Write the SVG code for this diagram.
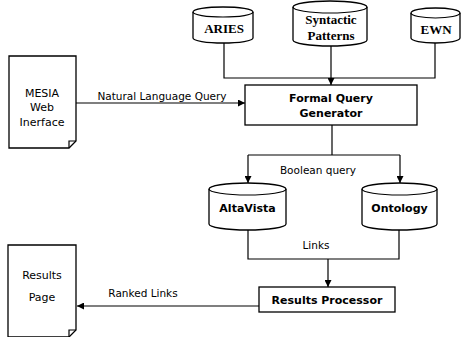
<svg xmlns="http://www.w3.org/2000/svg" width="463" height="337" viewBox="0 0 463 337">
<defs>
<marker id="ah" viewBox="0 0 10 10" refX="10" refY="5" markerWidth="7" markerHeight="7" orient="auto" markerUnits="userSpaceOnUse">
<path d="M0,0 L10,5 L0,10 Z" fill="#000"/>
</marker>
<style>
.s{fill:#fff;stroke:#000;stroke-width:1.3}
.c{fill:none;stroke:#000;stroke-width:1.2}
.serif{font-family:"Liberation Serif","Times New Roman",serif;font-weight:bold;font-size:13px;text-anchor:middle}
.sans{font-family:"DejaVu Sans",Verdana,sans-serif;font-weight:bold;font-size:11px;text-anchor:middle}
.lab{font-family:"DejaVu Sans",Verdana,sans-serif;font-size:10.5px;text-anchor:middle}
</style>
</defs>
<rect width="463" height="337" fill="#fff"/>
<g id="connectors">
<path class="c" d="M224,43 V78 H435 V43"/>
<path class="c" d="M331,46 V85" marker-end="url(#ah)"/>
<path class="c" d="M76,103 H245" marker-end="url(#ah)"/>
<path class="c" d="M332,125 V155"/>
<path class="c" d="M248,155 H400"/>
<path class="c" d="M248,155 V183" marker-end="url(#ah)"/>
<path class="c" d="M400,155 V183" marker-end="url(#ah)"/>
<path class="c" d="M248,230 V259 H399 V230"/>
<path class="c" d="M328,259 V287" marker-end="url(#ah)"/>
<path class="c" d="M259,306 H77" marker-end="url(#ah)"/>
<text class="lab" x="162" y="100">Natural Language Query</text>
<text class="lab" x="318" y="174">Boolean query</text>
<text class="lab" x="316" y="249">Links</text>
<text class="lab" x="143" y="297">Ranked Links</text>
</g>
<g id="aries">
<path class="s" d="M193,12 A30,5 0 0 1 253,12 V38 A30,5 0 0 1 193,38 Z"/>
<path class="c" d="M193,12 A30,5 0 0 0 253,12"/>
<text class="serif" x="224" y="33">ARIES</text>
</g>
<g id="syntactic">
<path class="s" d="M293,7 A37,6 0 0 1 367,7 V40 A37,6 0 0 1 293,40 Z"/>
<path class="c" d="M293,7 A37,6 0 0 0 367,7"/>
<text class="serif" x="331" y="24">Syntactic</text>
<text class="serif" x="331" y="40">Patterns</text>
</g>
<g id="ewn">
<path class="s" d="M411,13 A24.5,5 0 0 1 460,13 V38 A24.5,5 0 0 1 411,38 Z"/>
<path class="c" d="M411,13 A24.5,5 0 0 0 460,13"/>
<text class="serif" x="436" y="34">EWN</text>
</g>
<g id="mesia">
<path class="s" d="M9,56 H76 V141 L69,148 H9 Z"/>
<path class="c" d="M76,141 L69,141 L69,148"/>
<text class="lab" x="42" y="97" style="font-size:11px">MESIA</text>
<text class="lab" x="42" y="111" style="font-size:11px">Web</text>
<text class="lab" x="42" y="126" style="font-size:11px">Inerface</text>
</g>
<g id="fqg">
<rect class="s" x="245" y="85" width="172" height="40"/>
<text class="sans" x="331" y="102">Formal Query</text>
<text class="sans" x="331" y="117">Generator</text>
</g>
<g id="altavista">
<path class="s" d="M209,189 A38.5,6 0 0 1 286,189 V224 A38.5,6 0 0 1 209,224 Z"/>
<path class="c" d="M209,189 A38.5,6 0 0 0 286,189"/>
<text class="sans" x="247.5" y="212">AltaVista</text>
</g>
<g id="ontology">
<path class="s" d="M362,189 A37.5,6 0 0 1 437,189 V224 A37.5,6 0 0 1 362,224 Z"/>
<path class="c" d="M362,189 A37.5,6 0 0 0 437,189"/>
<text class="sans" x="399.5" y="212">Ontology</text>
</g>
<g id="results-processor">
<rect class="s" x="259" y="287" width="136" height="25"/>
<text class="sans" x="327" y="304">Results Processor</text>
</g>
<g id="results-page">
<path class="s" d="M8,245 H76 V330 L69,337 H8 Z"/>
<path class="c" d="M76,330 L69,330 L69,337"/>
<text class="lab" x="42" y="279" style="font-size:11px">Results</text>
<text class="lab" x="42" y="301" style="font-size:11px">Page</text>
</g>
</svg>
